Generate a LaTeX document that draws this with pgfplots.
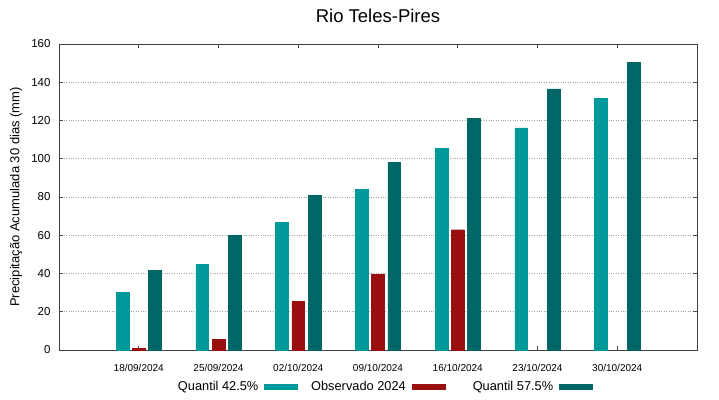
\documentclass[border=0pt]{standalone}
\usepackage{pgfplots}
\pgfplotsset{compat=1.18}
\usepackage{fontspec}
\setmainfont{Liberation Sans}
\definecolor{q1}{RGB}{0,153,153}
\definecolor{obs}{RGB}{153,15,15}
\definecolor{q2}{RGB}{0,102,102}
\newcommand{\lt}[1]{\makebox[93pt][r]{#1}}
\begin{document}
\begin{tikzpicture}[x=1pt,y=1pt]
\useasboundingbox (-59,-49) rectangle (660,350);
\begin{axis}[
  at={(0,0)}, anchor=south west,
  scale only axis, width=638pt, height=306pt,
  xmin=-1, xmax=7, ymin=0, ymax=160,
  xtick={0,...,6},
  xticklabels={18/09/2024,25/09/2024,02/10/2024,09/10/2024,16/10/2024,23/10/2024,30/10/2024},
  ytick={0,20,...,160},
  tick align=inside,
  major tick length=4pt,
  tick style={black!70, line width=0.6pt},
  axis line style={black!75, line width=0.8pt},
  ymajorgrids,
  major grid style={gray!70, dotted, line width=0.6pt},
  x tick label style={font=\fontsize{10}{12}\selectfont, yshift=-11pt},
  y tick label style={font=\fontsize{11.5}{14}\selectfont, xshift=-5pt},
  /pgf/number format/assume math mode=true,
  ylabel={Precipitação Acumulada 30 dias (mm)},
  ylabel style={font=\fontsize{13}{15}\selectfont, at={(axis description cs:-0.0674,0.5)}, anchor=center},
  title={Rio Teles-Pires},
  title style={font=\fontsize{18.5}{20}\selectfont, at={(axis description cs:0.5,1)}, yshift=12pt},
  legend columns=3,
  legend plot pos=right,
  legend style={at={(axis description cs:0.5,-0.121)}, anchor=center, draw=none, fill=none,
    font=\fontsize{12.8}{14}\selectfont,
    /tikz/every odd column/.append style={column sep=4pt},
    /tikz/every even column/.append style={column sep=13pt}},
  legend image code/.code={\fill[#1] (0pt,-2.6pt) rectangle (33pt,2.6pt);},
]
\addplot[ybar, bar width=12.7pt, bar shift=-16.2pt, fill=q1, draw=q1] coordinates {
 (0,30.2) (1,44.8) (2,66.9) (3,84.0) (4,105.4) (5,116.2) (6,131.6)};
\addlegendentry{\lt{Quantil 42.5\%}}
\addplot[ybar, bar width=12.7pt, bar shift=0pt, fill=obs, draw=obs] coordinates {
 (0,1.0) (1,5.6) (2,25.3) (3,39.6) (4,62.9)};
\addlegendentry{\lt{Observado 2024}}
\addplot[ybar, bar width=12.7pt, bar shift=16.2pt, fill=q2, draw=q2] coordinates {
 (0,41.7) (1,59.8) (2,81.0) (3,98.1) (4,121.3) (5,136.6) (6,150.4)};
\addlegendentry{\lt{Quantil 57.5\%}}
\end{axis}
\end{tikzpicture}
\end{document}
